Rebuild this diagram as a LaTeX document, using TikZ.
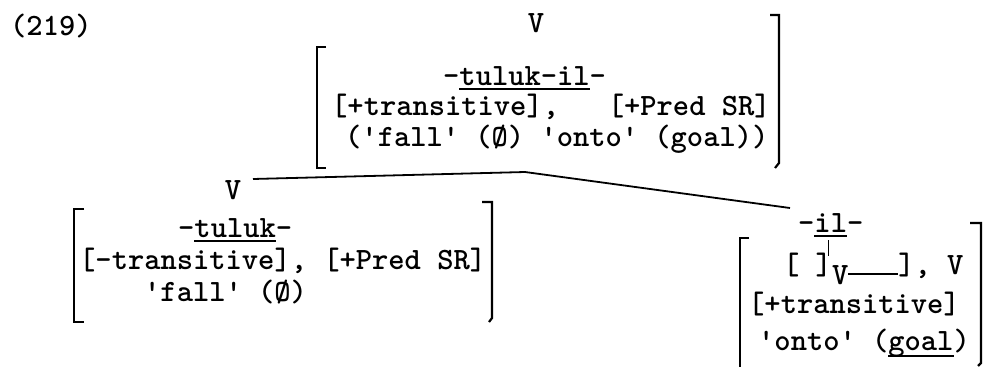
\documentclass[tikz,border=0pt]{standalone}
\newcommand{\sott}[2][5pt]{\setbox0=\hbox{#2}\rlap{\rule[-#1]{\wd0}{1.8pt}}\box0}
\begin{document}
\begin{tikzpicture}[x=1pt,y=-1pt,
    txt/.style={inner sep=0pt,anchor=base west,font=\fontsize{31}{36}\selectfont\ttfamily\bfseries},
    brk/.style={line width=2.2pt},
    branch/.style={line width=1.8pt}]
\useasboundingbox (0,0) rectangle (1003,367);
% Numero
\node[txt] (num) at (10,35) {(219)};
% Radice
\node[txt,anchor=base] (vtop) at (536,32) {V};
\node[txt] (top1) at (443,85) {-\sott{tuluk-il}-};
\node[txt] (top2) at (331,115) {[+transitive],\ \ \ [+Pred SR]};
\node[txt] (top3) at (345,146) {('fall' (\O) 'onto' (goal))};
\draw[brk] (326,47) -- (317,47) -- (317,168) -- (326,168);
\draw[brk] (770,15) -- (779,15) -- (779,163) -- (775,168);
% Rami
\coordinate (rootfoot) at (525,172);
\coordinate (leftarm) at (253,179);
\coordinate (rightarm) at (790,208);
\draw[branch] (leftarm) -- (rootfoot) -- (rightarm);
% Figlio sinistro
\node[txt,anchor=base] (vleft) at (233,199) {V};
\node[txt] (left1) at (178,237) {-\sott{tuluk}-};
\node[txt] (left2) at (79,269) {[-transitive], [+Pred SR]};
\node[txt] (left3) at (144,301) {'fall' (\O)};
\draw[brk] (84,209) -- (74,209) -- (74,322) -- (84,322);
\draw[brk] (482,202) -- (492,202) -- (492,318) -- (489,322);
% Figlio destro
\node[txt] (right1) at (798,232) {-\sott{il}-};
\node[txt] (right2) at (783,274) {[ ]\raisebox{-10pt}{V}\rule[-1pt]{50pt}{1.8pt}], V};
\node[txt] (right3) at (748,313) {[+transitive]};
\node[txt] (right4) at (758,350) {'onto' (\sott[7pt]{goal})};
\draw[brk] (749,238) -- (740,238) -- (740,367);
\draw[brk] (970,223) -- (981,223) -- (981,363) -- (978,366);
\draw[branch] (828.5,240) -- (828.5,256);
\end{tikzpicture}
\end{document}
